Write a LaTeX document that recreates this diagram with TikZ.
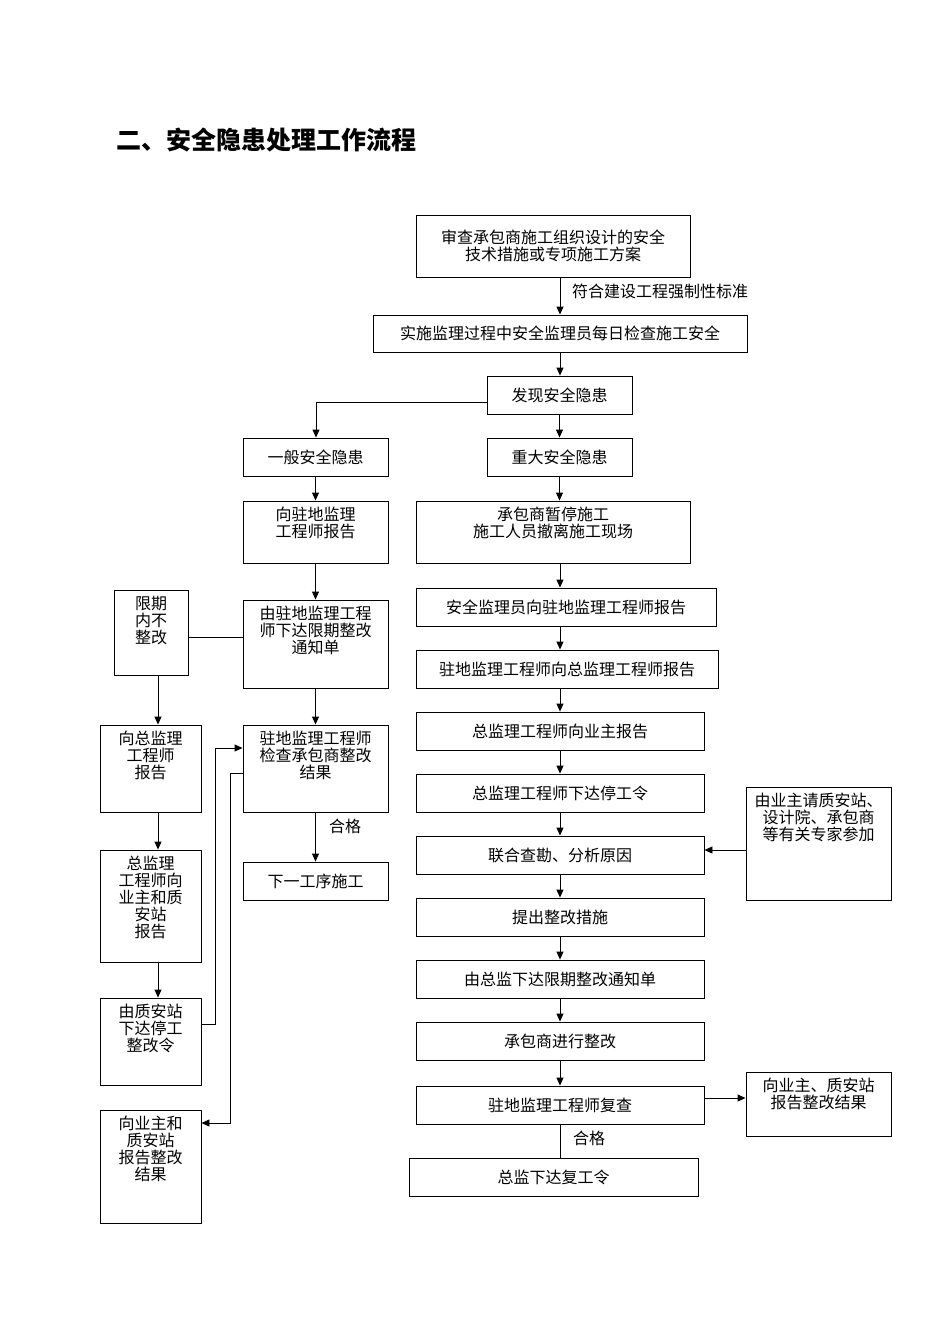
\documentclass[tikz,border=0pt]{standalone}
\usepackage{fontspec}
\setmainfont{Noto Sans CJK SC}
\usetikzlibrary{arrows.meta}
\newcommand\bx[6]{\node[box,minimum width={(#4-#2)*1pt},minimum height={(#5-#3)*1pt}] (#1) at ({(#2+#4)/2},{(#3+#5)/2}) {#6};}
\newcommand\bt[6]{\node[box,minimum width={(#4-#2)*1pt},minimum height={(#5-#3)*1pt},label={[lab]north:#6}] (#1) at ({(#2+#4)/2},{(#3+#5)/2}) {};}
\begin{document}
\begin{tikzpicture}[x=1pt,y=-1pt,
  box/.style={draw,line width=0.9pt,inner sep=0pt,align=center,font=\fontsize{16}{17}\selectfont},
  lab/.style={anchor=north,yshift=-6pt,inner sep=0pt,align=center,font=\fontsize{16}{17}\selectfont},
  arr/.style={-{Triangle[length=8pt,width=7pt]},line width=0.9pt},
  ln/.style={line width=0.9pt},
  note/.style={font=\fontsize{16}{17}\selectfont,anchor=west,inner sep=0pt}]
\useasboundingbox (0,0) rectangle (950,1344);
\node[anchor=west,inner sep=0pt,font=\fontsize{25}{27}\selectfont\bfseries] (title) at (116,140) {二、安全隐患处理工作流程};
\bx{b1}{416}{215}{690}{277}{审查承包商施工组织设计的安全\\技术措施或专项施工方案}
\bx{b2}{373}{315}{747}{352}{实施监理过程中安全监理员每日检查施工安全}
\bx{b3}{487}{376}{632}{414}{发现安全隐患}
\bx{b4}{243}{438}{388}{476}{一般安全隐患}
\bx{b5}{487}{438}{632}{476}{重大安全隐患}
\bt{b6}{243}{501}{388}{563}{向驻地监理\\工程师报告}
\bt{b7}{416}{501}{690}{563}{承包商暂停施工\\施工人员撤离施工现场}
\bt{b8}{243}{600}{388}{688}{由驻地监理工程\\师下达限期整改\\通知单}
\bt{l1}{114}{590}{188}{675}{限期\\内不\\整改}
\bt{l2}{100}{725}{201}{812}{向总监理\\工程师\\报告}
\bt{l3}{100}{850}{201}{962}{总监理\\工程师向\\业主和质\\安站\\报告}
\bt{l4}{100}{998}{201}{1085}{由质安站\\下达停工\\整改令}
\bt{l5}{100}{1110}{201}{1223}{向业主和\\质安站\\报告整改\\结果}
\bt{b9}{243}{725}{388}{812}{驻地监理工程师\\检查承包商整改\\结果}
\bx{b10}{243}{862}{388}{900}{下一工序施工}
\bx{b11}{416}{588}{716}{626}{安全监理员向驻地监理工程师报告}
\bx{b12}{416}{650}{718}{688}{驻地监理工程师向总监理工程师报告}
\bx{b13}{416}{712}{704}{750}{总监理工程师向业主报告}
\bx{b14}{416}{774}{704}{812}{总监理工程师下达停工令}
\bx{b15}{416}{836}{704}{874}{联合查勘、分析原因}
\bx{b16}{416}{898}{704}{936}{提出整改措施}
\bx{b17}{416}{960}{704}{998}{由总监下达限期整改通知单}
\bx{b18}{416}{1022}{704}{1060}{承包商进行整改}
\bx{b19}{416}{1086}{704}{1124}{驻地监理工程师复查}
\bx{b20}{409}{1158}{698}{1196}{总监下达复工令}
\bt{r1}{746}{787}{891}{900}{由业主请质安站、\\设计院、承包商\\等有关专家参加}
\bt{r2}{746}{1072}{891}{1136}{向业主、质安站\\报告整改结果}
% connectors
\draw[arr] (b1.south -| 560,0) -- (b2.north -| 560,0);
\node[note] (t1) at (572,291) {符合建设工程强制性标准};
\draw[arr] (b2.south -| 560,0) -- (b3.north -| 560,0);
\draw[arr] (b3.west |- 0,402) -| (b4.north -| 316,0);
\draw[arr] (b3) -- (b5);
\draw[arr] (b5) -- (b7.north -| b5);
\draw[arr] (b4) -- (b6);
\draw[arr] (b6) -- (b8);
\draw[arr] (b8) -- (b9);
\draw[arr] (b9) -- (b10);
\node[note] (t2) at (329,826) {合格};
\draw[ln] (l1.east |- 0,637) -- (b8.west |- 0,637);
\draw[arr] (l1.south -| 158,0) -- (l2.north -| 158,0);
\draw[arr] (l2.south -| 158,0) -- (l3.north -| 158,0);
\draw[arr] (l3.south -| 158,0) -- (l4.north -| 158,0);
\coordinate (c1) at (215,1024);
\coordinate (c2) at (230,773);
\draw[arr] (l4.east |- c1) -- (c1) |- (b9.west |- 0,748);
\draw[arr] (b9.west |- c2) -- (c2) |- (l5.east |- 0,1123);
\draw[arr] (b7.south -| 560,0) -- (b11.north -| 560,0);
\draw[arr] (b11.south -| 560,0) -- (b12.north -| 560,0);
\draw[arr] (b12.south -| 560,0) -- (b13.north -| 560,0);
\draw[arr] (b13.south -| 560,0) -- (b14.north -| 560,0);
\draw[arr] (b14.south -| 560,0) -- (b15.north -| 560,0);
\draw[arr] (b15.south -| 560,0) -- (b16.north -| 560,0);
\draw[arr] (b16.south -| 560,0) -- (b17.north -| 560,0);
\draw[arr] (b17.south -| 560,0) -- (b18.north -| 560,0);
\draw[arr] (b18.south -| 560,0) -- (b19.north -| 560,0);
\draw[ln] (b19.south -| 560,0) -- (b20.north -| 560,0);
\node[note] (t3) at (573,1138) {合格};
\draw[arr] (r1.west |- 0,850) -- (b15.east |- 0,850);
\draw[arr] (b19.east |- 0,1098) -- (r2.west |- 0,1098);
\end{tikzpicture}
\end{document}
